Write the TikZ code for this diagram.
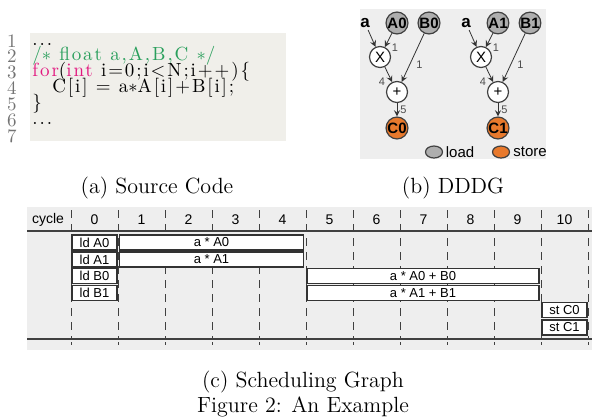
\documentclass[tikz,border=0pt]{standalone}
\usepackage{fontspec}
\usepackage{xcolor}
\usetikzlibrary{shapes.geometric}
\newfontfamily\arialfont{Liberation Sans}
\newfontfamily\codefont{lmroman10-regular.otf}[LetterSpace=10]
\definecolor{codebg}{HTML}{F0EFEA}
\definecolor{graphbg}{HTML}{EEEEEE}
\definecolor{cgreen}{HTML}{2A9F5C}
\definecolor{cmag}{HTML}{E2177F}
\definecolor{loadgray}{HTML}{AEAEAE}
\definecolor{storeorange}{HTML}{E8792C}

\begin{document}
\begin{tikzpicture}[x=0.5pt,y=-0.5pt,auto,>=stealth,
    op/.style={circle,draw=black!75,line width=0.6pt,fill=white,minimum size=10.5pt,inner sep=0pt,font=\arialfont\fontsize{7.5}{7.5}\selectfont},
    ld/.style={op,fill=loadgray,font=\arialfont\bfseries\fontsize{7.5}{7.5}\selectfont},
    st/.style={op,fill=storeorange,font=\arialfont\bfseries\fontsize{7.5}{7.5}\selectfont},
    keymark/.style={ellipse,draw=black!75,line width=0.6pt,minimum width=8.5pt,minimum height=6pt,inner sep=0pt},
    lbl/.style={font=\arialfont\fontsize{5.5}{5.5}\selectfont,text=black!70,inner sep=1.5pt},
    slot/.style={draw=black!80,line width=0.9pt,fill=white,minimum height=7.5pt,inner sep=0pt,font=\arialfont\fontsize{6.5}{6.5}\selectfont},
    hdr/.style={font=\arialfont\fontsize{7}{7}\selectfont},
    codeline/.style={anchor=west,inner sep=0pt,text height=6pt,text depth=1.5pt,font=\codefont\fontsize{9.5}{9.5}\selectfont},
    num/.style={inner sep=0pt,text height=6pt,text depth=0pt,text=black!55,font=\fontsize{9.5}{9.5}\selectfont},
    captext/.style={anchor=base,inner sep=0pt,font=\fontsize{11}{11}\selectfont},
    gridline/.style={black!75,line width=0.5pt,dash pattern=on 4pt off 3pt}]
  \useasboundingbox (0,0) rectangle (592,418);
  \fill[codebg] (30,33) rectangle (286,141);
  \fill[graphbg] (360,9) rectangle (546,159);
  \fill[graphbg] (27,207) rectangle (592,350);

  \node[num] (n1) at (12,41) {1};
  \node[num] (n2) at (12,56) {2};
  \node[num] (n3) at (12,72) {3};
  \node[num] (n4) at (12,88) {4};
  \node[num] (n5) at (12,104) {5};
  \node[num] (n6) at (12,120) {6};
  \node[num] (n7) at (12,136) {7};
  \node[codeline] (l1) at (32,41) {...};
  \node[codeline,text=cgreen] (l2) at (32,56) {/$\ast$ float a,A,B,C $\ast$/};
  \node[codeline] (l3) at (32,72) {\textcolor{cmag}{for}(\textcolor{cmag}{int} i=0;i<N;i++)\{};
  \node[codeline] (l4) at (52,88) {C[i] = a$\ast$A[i]+B[i];};
  \node[codeline] (l5) at (32,104) {\}};
  \node[codeline] (l6) at (32,120) {...};

  \node[font=\arialfont\bfseries\fontsize{8.5}{8.5}\selectfont,inner sep=1pt] (a0) at (365,23) {a};
  \node[ld] (A0) at (397,23) {A0};
  \node[ld] (B0) at (429,23) {B0};
  \node[op] (x0) at (380,57) {X};
  \node[op] (p0) at (397,92) {+};
  \node[st] (C0) at (397,128) {C0};
  \node[font=\arialfont\bfseries\fontsize{8.5}{8.5}\selectfont,inner sep=1pt] (a1) at (466,23) {a};
  \node[ld] (A1) at (498,23) {A1};
  \node[ld] (B1) at (530,23) {B1};
  \node[op] (x1) at (481,57) {X};
  \node[op] (p1) at (498,92) {+};
  \node[st] (C1) at (498,128) {C1};
  \draw [->,black!80] (a0) to (x0);
  \draw [->,black!80] (A0) to node[lbl] {1} (x0);
  \draw [->,black!80] (B0) to node[lbl] {1} (p0);
  \draw [->,black!80] (x0) to node[lbl,swap] {4} (p0);
  \draw [->,black!80] (p0) to node[lbl] {5} (C0);
  \draw [->,black!80] (a1) to (x1);
  \draw [->,black!80] (A1) to node[lbl] {1} (x1);
  \draw [->,black!80] (B1) to node[lbl] {1} (p1);
  \draw [->,black!80] (x1) to node[lbl,swap] {4} (p1);
  \draw [->,black!80] (p1) to node[lbl] {5} (C1);
  \node[keymark,fill=loadgray] (kload) at (434,152) {};
  \node[hdr,font=\arialfont\fontsize{7.5}{7.5}\selectfont] (tload) at (460,152) {load};
  \node[keymark,fill=storeorange] (kstore) at (501,152) {};
  \node[hdr,font=\arialfont\fontsize{7.5}{7.5}\selectfont] (tstore) at (530,152) {store};

  \foreach \k in {0,...,11} {
    \draw[gridline] (71+47*\k,210) -- (71+47*\k,339);
    \draw[black!75,line width=0.5pt] (71+47*\k,342) -- (71+47*\k,345);
  }
  \draw[black!75,line width=0.6pt] (27,231) -- (592,231);
  \draw[black!75,line width=0.6pt] (27,339) -- (592,339);
  \node[hdr] (cyc) at (48,220) {cycle};
  \foreach \k in {0,...,10}
    \node[hdr] (h\k) at (94.5+47*\k,220) {\k};
  \node[slot,minimum width=22.5pt] (ldA0) at (94.5,242.5) {ld A0};
  \node[slot,minimum width=92pt] (mulA0) at (211.5,242.5) {a * A0};
  \node[slot,minimum width=22.5pt] (ldA1) at (94.5,259.5) {ld A1};
  \node[slot,minimum width=92pt] (mulA1) at (211.5,259.5) {a * A1};
  \node[slot,minimum width=22.5pt] (ldB0) at (94.5,276) {ld B0};
  \node[slot,minimum width=116pt] (addB0) at (423,276) {a * A0 + B0};
  \node[slot,minimum width=22.5pt] (ldB1) at (94.5,293) {ld B1};
  \node[slot,minimum width=116pt] (addB1) at (423,293) {a * A1 + B1};
  \node[slot,minimum width=22.5pt] (stC0) at (564.5,310) {st C0};
  \node[slot,minimum width=22.5pt] (stC1) at (564.5,327.5) {st C1};

  \node[captext] (capa) at (157,193) {(a) Source Code};
  \node[captext] (capb) at (453,193) {(b) DDDG};
  \node[captext] (capc) at (303,387) {(c) Scheduling Graph};
  \node[captext] (fig) at (303,412) {Figure 2: An Example};
\end{tikzpicture}
\end{document}
